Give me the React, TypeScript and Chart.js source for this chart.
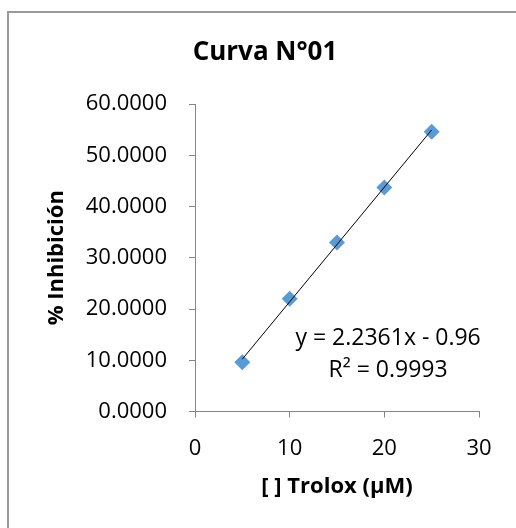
import React, { useEffect, useRef } from "react";
import { Chart, registerables } from "chart.js";

Chart.register(...registerables);

// ---- data ----
const concentrations = [5, 10, 15, 20, 25];
const inhibition = [9.6, 22.0, 33.0, 43.7, 54.6];
const xTickValues = [0, 10, 20, 30];
const yTickValues = [0, 10, 20, 30, 40, 50, 60];
const trendSlope = 2.2361;
const trendIntercept = -0.96;
const rSquared = 0.9993;
const chartTitle = "Curva N°01";
const xAxisTitle = "[ ] Trolox (µM)";
const yAxisTitle = "% Inhibición";

// label anchor in data coordinates
const equationAnchorX = 20.4;
const equationLine1Y = 14.3;
const equationLine2Y = 8.1;

const FONT = '"Open Sans", "Noto Sans", sans-serif';
const AXIS_GRAY = "#868686";

const equationText = `y = ${trendSlope}x - ${Math.abs(trendIntercept)}`;
const rSquaredText = `R² = ${rSquared}`;

const equationPlugin = {
  id: "equationLabel",
  afterDatasetsDraw(chart: any) {
    const { ctx, scales } = chart;
    const px = scales.x.getPixelForValue(equationAnchorX);
    ctx.save();
    ctx.font = `23px ${FONT}`;
    ctx.fillStyle = "#000";
    ctx.textAlign = "center";
    ctx.textBaseline = "middle";
    ctx.fillText(equationText, px, scales.y.getPixelForValue(equationLine1Y));
    ctx.fillText(rSquaredText, px, scales.y.getPixelForValue(equationLine2Y));
    ctx.restore();
  },
};

const framePlugin = {
  id: "frame",
  beforeDraw(chart: any) {
    const { ctx } = chart;
    ctx.save();
    ctx.fillStyle = "#fff";
    ctx.fillRect(0, 0, chart.width, chart.height);
    ctx.strokeStyle = "#9a9a9a";
    ctx.lineWidth = 2;
    ctx.beginPath();
    ctx.moveTo(8, chart.height + 2);
    ctx.lineTo(8, 12);
    ctx.lineTo(chart.width + 2, 12);
    ctx.stroke();
    ctx.restore();
  },
};

export default function App() {
  const canvasRef = useRef<HTMLCanvasElement | null>(null);

  useEffect(() => {
    const canvas = canvasRef.current;
    if (!canvas) return;

    const scatterPoints = concentrations.map((x, i) => ({ x, y: inhibition[i] }));
    const xFirst = concentrations[0];
    const xLast = concentrations[concentrations.length - 1];
    const trendPoints = [
      { x: xFirst, y: trendSlope * xFirst + trendIntercept },
      { x: xLast, y: trendSlope * xLast + trendIntercept },
    ];

    const chart = new Chart(canvas, {
      type: "scatter",
      data: {
        datasets: [
          {
            type: "line",
            label: "Trend",
            data: trendPoints,
            borderColor: "#000",
            borderWidth: 1,
            pointRadius: 0,
            fill: false,
            order: 0,
          } as any,
          {
            label: "Inhibición",
            data: scatterPoints,
            pointStyle: "rectRot",
            pointRadius: 8,
            pointBackgroundColor: "#5B9BD5",
            pointBorderColor: "#5B9BD5",
            pointBorderWidth: 0,
            showLine: false,
            order: 1,
          },
        ],
      },
      options: {
        responsive: false,
        animation: false,
        devicePixelRatio: 1,
        layout: { padding: { left: 51, right: 37, top: 0, bottom: 0 } },
        plugins: {
          legend: { display: false },
          tooltip: { enabled: false },
          title: {
            display: true,
            text: chartTitle,
            color: "#000",
            font: { family: FONT, size: 26, weight: "bold" },
            padding: { top: 37.4, bottom: 35.4 },
          },
        },
        scales: {
          x: {
            type: "linear",
            min: 0,
            max: 30,
            afterBuildTicks: (scale: any) => {
              scale.ticks = xTickValues.map((v) => ({ value: v }));
            },
            afterFit: (scale: any) => {
              scale.height = 116.5;
            },
            grid: {
              display: true,
              drawOnChartArea: false,
              drawTicks: true,
              tickLength: 6,
              tickColor: AXIS_GRAY,
              color: AXIS_GRAY,
            },
            border: { display: true, color: AXIS_GRAY, width: 1 },
            ticks: {
              color: "#000",
              font: { family: FONT, size: 22 },
              padding: 18,
              maxRotation: 0,
              callback: (v: any) => String(v),
            },
            title: {
              display: true,
              text: xAxisTitle,
              color: "#000",
              font: { family: FONT, size: 22, weight: "bold" },
              padding: { top: 0, bottom: 28 },
            },
          },
          y: {
            type: "linear",
            min: 0,
            max: 60,
            afterBuildTicks: (scale: any) => {
              scale.ticks = yTickValues.map((v) => ({ value: v }));
            },
            afterFit: (scale: any) => {
              scale.width = 144;
            },
            grid: {
              display: true,
              drawOnChartArea: false,
              drawTicks: true,
              tickLength: 6,
              tickColor: AXIS_GRAY,
              color: AXIS_GRAY,
            },
            border: { display: true, color: AXIS_GRAY, width: 1 },
            ticks: {
              color: "#000",
              font: { family: FONT, size: 22 },
              padding: 22,
              callback: (v: any) => Number(v).toFixed(4),
            },
            title: {
              display: true,
              text: yAxisTitle,
              color: "#000",
              font: { family: FONT, size: 22, weight: "bold", lineHeight: 1.2 },
              padding: { top: -7, bottom: 0 },
            },
          },
        },
      },
      plugins: [framePlugin, equationPlugin],
    });

    return () => chart.destroy();
  }, []);

  return (
    <div style={{ position: "fixed", left: 0, top: 0, width: 516, height: 528, background: "#fff" }}>
      <canvas ref={canvasRef} width={516} height={528} style={{ display: "block", width: 516, height: 528 }} />
    </div>
  );
}
